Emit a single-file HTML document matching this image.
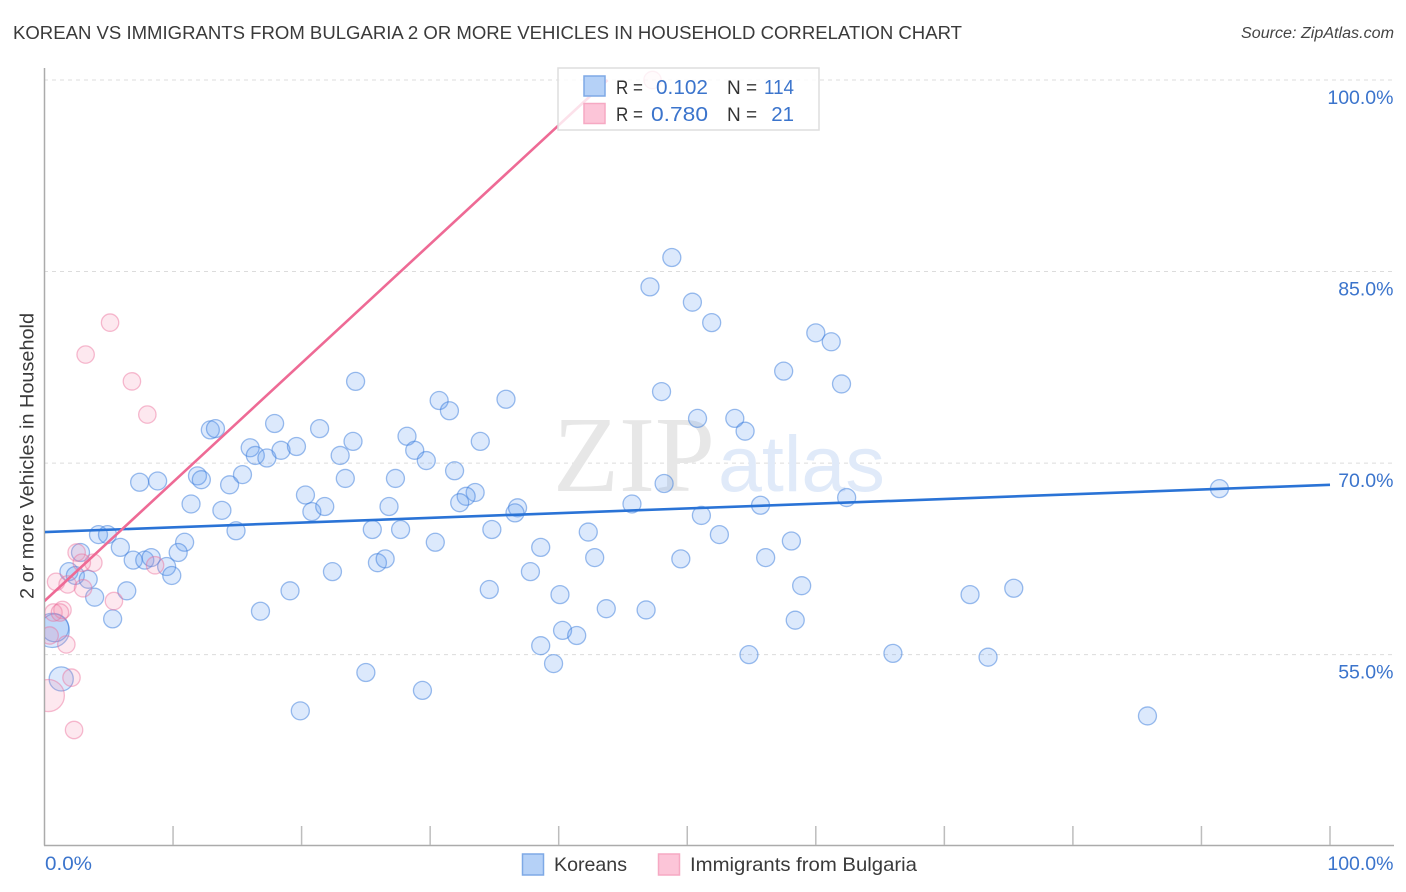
<!DOCTYPE html>
<html lang="en">
<head>
<meta charset="utf-8">
<title>Korean vs Immigrants from Bulgaria 2 or More Vehicles in Household Correlation Chart</title>
<style>
html,body{margin:0;padding:0;background:#fff;}
svg{display:block;font-family:"Liberation Sans",sans-serif;}
</style>
</head>
<body>
<svg id="chart" xmlns="http://www.w3.org/2000/svg" width="1406" height="892" viewBox="0 0 1406 892">
  <defs>
    <clipPath id="plot-clip"><rect x="45" y="60" width="1349" height="785"></rect></clipPath>
  </defs>
  <rect x="0" y="0" width="1406" height="892" fill="#ffffff"></rect>
  <text x="13" y="39" font-size="18.5" fill="#3a3a3a" textLength="949" lengthAdjust="spacingAndGlyphs">KOREAN VS IMMIGRANTS FROM BULGARIA 2 OR MORE VEHICLES IN HOUSEHOLD CORRELATION CHART</text>
  <text x="1394" y="38" font-size="15.500" font-style="italic" fill="#444444" text-anchor="end" textLength="153" lengthAdjust="spacingAndGlyphs">Source: ZipAtlas.com</text>
  <g id="grid"></g>
  <g>
    <text x="553" y="491" font-size="108" fill="#e7e7e7" style="font-family:'Liberation Serif',serif">ZIP</text>
    <text x="718" y="491" font-size="79" fill="#e0eaf9">atlas</text>
  </g>
  <g id="axes"></g>
  <g id="marks" clip-path="url(#plot-clip)"></g>
  <g>
    <rect x="558" y="68" width="261" height="62" fill="#ffffff" fill-opacity="0.8" stroke="#dedede" stroke-width="1.5"></rect>
    <rect x="584" y="76" width="21" height="20" fill="#b5d1f7" stroke="#7ea9e6" stroke-width="1.5"></rect>
    <rect x="584" y="103.500" width="21" height="20" fill="#fcc5d8" stroke="#f6a9c3" stroke-width="1.5"></rect>
    <text x="616" y="94" font-size="19" fill="#333333" textLength="27" lengthAdjust="spacingAndGlyphs">R =</text>
    <text x="656" y="94" font-size="20.500" fill="#3b74cc" textLength="52" lengthAdjust="spacingAndGlyphs">0.102</text>
    <text x="727" y="94" font-size="19" fill="#333333">N =</text>
    <text x="764" y="94" font-size="20.500" fill="#3b74cc" textLength="30" lengthAdjust="spacingAndGlyphs">114</text>
    <text x="616" y="121" font-size="19" fill="#333333" textLength="27" lengthAdjust="spacingAndGlyphs">R =</text>
    <text x="651" y="121" font-size="20.500" fill="#3b74cc" textLength="57" lengthAdjust="spacingAndGlyphs">0.780</text>
    <text x="727" y="121" font-size="19" fill="#333333">N =</text>
    <text x="794" y="121" font-size="20.500" fill="#3b74cc" text-anchor="end">21</text>
  </g>
  <text transform="translate(33.500 456) rotate(-90)" font-size="19" fill="#3a3a3a" text-anchor="middle" textLength="286" lengthAdjust="spacingAndGlyphs">2 or more Vehicles in Household</text>
  <g>
    <rect x="522.500" y="854" width="21" height="21" fill="#b5d1f7" stroke="#7ea9e6" stroke-width="1.5"></rect>
    <text x="554" y="871" font-size="19.500" fill="#3a3a3a" textLength="73" lengthAdjust="spacingAndGlyphs">Koreans</text>
    <rect x="658.500" y="854" width="21" height="21" fill="#fcc5d8" stroke="#f6a9c3" stroke-width="1.5"></rect>
    <text x="690" y="871" font-size="19.500" fill="#3a3a3a" textLength="227" lengthAdjust="spacingAndGlyphs">Immigrants from Bulgaria</text>
  </g>
</svg>
<script>
const koreanX = [0.6,0.8,1.3,48.8,47.1,50.4,51.9,60.0,61.2,57.5,62.0,24.2,48.0,35.9,30.7,31.5,50.8,53.7,54.5,17.9,12.9,13.3,21.4,28.2,24.0,33.9,16.0,16.4,17.3,18.4,19.6,23.0,28.8,29.7,31.9,15.4,11.9,12.2,14.4,7.4,8.8,23.4,27.3,48.2,33.5,32.8,20.3,11.4,13.8,20.8,21.8,26.8,32.3,36.8,36.6,45.7,55.7,62.4,91.4,51.1,25.5,34.8,27.7,14.9,42.3,52.5,4.2,4.9,30.4,10.9,58.1,5.9,10.4,2.8,38.6,6.9,7.8,8.3,25.9,26.5,42.8,49.5,56.1,9.5,9.9,22.4,37.8,1.9,2.4,3.4,58.9,34.6,19.1,6.4,3.9,40.1,75.4,72.0,43.7,46.8,16.8,5.3,58.4,40.3,41.4,38.6,39.6,54.8,66.0,73.4,25.0,29.4,19.9,85.8];
const koreanY = [56.9,57.1,53.1,86.1,83.8,82.6,81.0,80.2,79.5,77.2,76.2,76.4,75.6,75.0,74.9,74.1,73.5,73.5,72.5,73.1,72.6,72.7,72.7,72.1,71.7,71.7,71.2,70.6,70.4,71.0,71.3,70.6,71.0,70.2,69.4,69.1,69.0,68.7,68.3,68.5,68.6,68.8,68.8,68.4,67.7,67.4,67.5,66.8,66.3,66.2,66.6,66.6,66.9,66.5,66.1,66.8,66.7,67.3,68.0,65.9,64.8,64.8,64.8,64.7,64.6,64.4,64.4,64.4,63.8,63.8,63.9,63.4,63.0,63.0,63.4,62.4,62.4,62.6,62.2,62.5,62.6,62.5,62.6,61.9,61.2,61.5,61.5,61.5,61.2,60.9,60.4,60.1,60.0,60.0,59.5,59.7,60.2,59.7,58.6,58.5,58.4,57.8,57.7,56.9,56.5,55.7,54.3,55.0,55.1,54.8,53.6,52.2,50.6,50.2];
const koreanSize = [3.6,2.4,1.8];
const bulgariaX = [0.3,47.3,5.1,3.2,6.8,8.0,2.5,3.8,2.9,8.6,0.9,1.8,3.0,5.4,1.4,0.7,1.2,0.4,1.7,2.1,2.3];
const bulgariaY = [51.8,100.0,81.0,78.5,76.4,73.8,63.0,62.2,62.2,62.0,60.7,60.5,60.2,59.2,58.5,58.3,58.3,56.5,55.8,53.2,49.1];
const bulgariaSize = [3.4];
const koreanTrend = [64.6, 68.3];
const bulgariaTrend = [59.2, 100.0];
const bulgariaTrendEndX = 43.8;
const yTicks = [100, 85, 70, 55];
const yTickLabels = ["100.0%", "85.0%", "70.0%", "55.0%"];
const xTicks = [0, 10, 20, 30, 40, 50, 60, 70, 80, 90, 100];
const xEndLabels = ["0.0%", "100.0%"];

const NS = "http://www.w3.org/2000/svg";
const xPos = v => 44.5 + v * 12.855;
const yPos = v => 80 + (100 - v) * 12.77;
const gridLayer = document.getElementById("grid");
const axesLayer = document.getElementById("axes");
const marksLayer = document.getElementById("marks");

function make(tag, attrs, parent) {
  const el = document.createElementNS(NS, tag);
  for (const k in attrs) el.setAttribute(k, attrs[k]);
  parent.appendChild(el);
  return el;
}

yTicks.forEach((v, i) => {
  const line = make("line", {x1: 44, x2: 1394, y1: yPos(v), y2: yPos(v), stroke: "#dcdcdc", "stroke-width": 1, "stroke-dasharray": "4 4"}, gridLayer);
  
  
  const label = make("text", {x: 1393.5, y: yPos(v) + 24, "font-size": 19.5, fill: "#3b74cc", "text-anchor": "end"}, axesLayer);
  label.textContent = yTickLabels[i];
  
  
});

const yAxis = make("line", {x1: 44.5, x2: 44.5, y1: 68, y2: 845.5, stroke: "#ababab", "stroke-width": 1.5}, axesLayer);


const xAxis = make("line", {x1: 44, x2: 1394, y1: 845.5, y2: 845.5, stroke: "#ababab", "stroke-width": 1.5}, axesLayer);


xTicks.slice(1).forEach(v => {
  const tick = make("line", {x1: xPos(v), x2: xPos(v), y1: 826, y2: 845, stroke: "#bdbdbd", "stroke-width": 1.5}, axesLayer);
  
  
});
const xStart = make("text", {x: 45, y: 870, "font-size": 19.5, fill: "#3b74cc", textLength: 47, lengthAdjust: "spacingAndGlyphs"}, axesLayer);
xStart.textContent = xEndLabels[0];


const xEnd = make("text", {x: 1393.5, y: 870, "font-size": 19.5, fill: "#3b74cc", "text-anchor": "end"}, axesLayer);
xEnd.textContent = xEndLabels[1];



koreanX.forEach((v, i) => {
  const dot = make("circle", {cx: xPos(v), cy: yPos(koreanY[i]), r: 9 * Math.sqrt(koreanSize[i] ?? 1), fill: "#5f9cf0", "fill-opacity": 0.22, stroke: "#3a7bdc", "stroke-opacity": 0.5, "stroke-width": 1.3}, marksLayer);
  
  
});
bulgariaX.forEach((v, i) => {
  const dot = make("circle", {cx: xPos(v), cy: yPos(bulgariaY[i]), r: 8.7 * Math.sqrt(bulgariaSize[i] ?? 1), fill: "#f68bb0", "fill-opacity": 0.2, stroke: "#ec6d98", "stroke-opacity": 0.45, "stroke-width": 1.3}, marksLayer);
  
  
});

const koreanLine = make("line", {x1: xPos(0), y1: yPos(koreanTrend[0]), x2: xPos(100), y2: yPos(koreanTrend[1]), stroke: "#2a73d6", "stroke-width": 2.6}, marksLayer);


const bulgariaLine = make("line", {x1: xPos(0), y1: yPos(bulgariaTrend[0]), x2: xPos(bulgariaTrendEndX), y2: yPos(bulgariaTrend[1]), stroke: "#ee6a95", "stroke-width": 2.6}, marksLayer);


</script>
</body>
</html>
